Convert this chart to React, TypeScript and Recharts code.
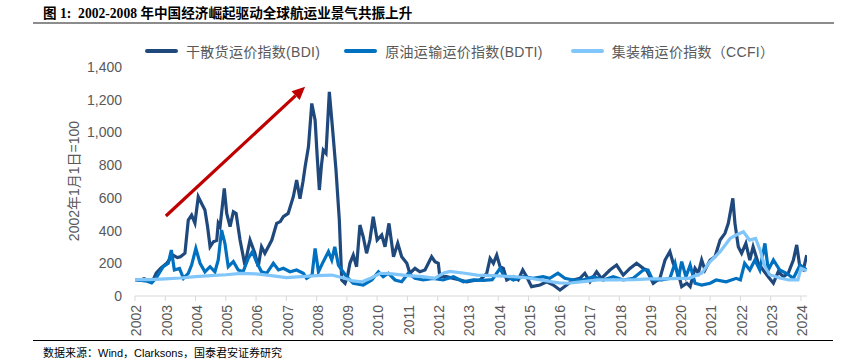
import { LineChart, Line, XAxis, YAxis, ReferenceLine } from 'recharts';

// BDI (干散货运价指数), 2002-01-01 = 100
const bdiYears = [
  2002.0, 2002.15, 2002.3, 2002.45, 2002.6, 2002.7, 2002.85, 2003.05, 2003.25, 2003.4,
  2003.5, 2003.65, 2003.76, 2003.87, 2003.98, 2004.09, 2004.2, 2004.31, 2004.4, 2004.48,
  2004.59, 2004.7, 2004.75, 2004.81, 2004.95, 2005.03, 2005.14, 2005.25, 2005.34, 2005.47,
  2005.63, 2005.8, 2005.96, 2006.07, 2006.18, 2006.29, 2006.4, 2006.52, 2006.68, 2006.8,
  2006.9, 2007.06, 2007.23, 2007.34, 2007.45, 2007.55, 2007.62, 2007.73, 2007.84, 2007.95,
  2008.02, 2008.09, 2008.16, 2008.22, 2008.31, 2008.42, 2008.53, 2008.64, 2008.75, 2008.83,
  2008.94, 2009.02, 2009.1, 2009.21, 2009.32, 2009.43, 2009.54, 2009.65, 2009.76, 2009.87,
  2010.0, 2010.15, 2010.26, 2010.39, 2010.54, 2010.68, 2010.81, 2010.98, 2011.08, 2011.25,
  2011.41, 2011.58, 2011.8, 2011.91, 2012.02, 2012.07, 2012.29, 2012.52, 2012.74, 2012.96,
  2013.2, 2013.4, 2013.62, 2013.73, 2013.84, 2013.95, 2014.06, 2014.17, 2014.28, 2014.5,
  2014.66, 2014.81, 2014.94, 2015.1, 2015.38, 2015.6, 2015.82, 2016.04, 2016.26, 2016.48,
  2016.7, 2016.86, 2017.03, 2017.25, 2017.41, 2017.69, 2017.91, 2018.13, 2018.35, 2018.57,
  2018.79, 2018.9, 2019.12, 2019.34, 2019.51, 2019.67, 2019.78, 2019.95, 2020.06, 2020.23,
  2020.34, 2020.5, 2020.61, 2020.72, 2020.83, 2021.0, 2021.16, 2021.33, 2021.49, 2021.6,
  2021.68, 2021.75, 2021.82, 2021.93, 2022.04, 2022.18, 2022.31, 2022.42, 2022.59, 2022.75,
  2022.92, 2023.09, 2023.25, 2023.42, 2023.58, 2023.75, 2023.86, 2023.97, 2024.08, 2024.19,
];
const bdiValues = [
  100, 95, 105, 95, 98, 140, 170, 200, 250, 235,
  240, 262, 464, 495, 446, 607, 566, 526, 420, 301,
  332, 340, 444, 424, 658, 505, 424, 515, 505, 342,
  189, 342, 261, 179, 301, 261, 300, 342, 444, 455,
  485, 505, 607, 709, 595, 700, 790, 912, 1177, 1075,
  850, 648, 800, 892, 872, 1248, 1014, 770, 464, 98,
  78, 120, 200, 250, 179, 434, 362, 261, 342, 485,
  342, 373, 301, 444, 240, 322, 240, 200, 139, 169,
  148, 159, 240, 210, 200, 118, 118, 108, 98, 87,
  95, 98, 139, 230, 200, 250, 179, 169, 98, 118,
  98, 159, 118, 57, 67, 87, 67, 37, 67, 98,
  108, 139, 87, 148, 108, 159, 189, 128, 169, 200,
  169, 159, 78, 108, 220, 271, 200, 139, 57, 78,
  57, 169, 139, 220, 159, 220, 240, 342, 383, 444,
  525, 597, 444, 301, 261, 322, 220, 301, 200, 159,
  118, 78, 148, 118, 139, 220, 312, 169, 159, 250,
];

// BDTI (原油运输运价指数)
const bdtiYears = [
  2002.0, 2002.2, 2002.4, 2002.55, 2002.7, 2002.93, 2003.1, 2003.2, 2003.3, 2003.47,
  2003.6, 2003.76, 2003.87, 2004.01, 2004.15, 2004.31, 2004.48, 2004.64, 2004.75, 2004.86,
  2004.97, 2005.08, 2005.25, 2005.41, 2005.57, 2005.74, 2005.88, 2006.01, 2006.18, 2006.35,
  2006.57, 2006.74, 2006.9, 2007.12, 2007.34, 2007.56, 2007.67, 2007.85, 2007.95, 2008.06,
  2008.22, 2008.39, 2008.5, 2008.6, 2008.72, 2008.83, 2008.99, 2009.21, 2009.54, 2009.82,
  2010.04, 2010.2, 2010.37, 2010.59, 2010.81, 2011.03, 2011.25, 2011.52, 2011.85, 2012.18,
  2012.52, 2012.85, 2013.18, 2013.5, 2013.8, 2014.06, 2014.17, 2014.5, 2014.83, 2015.15,
  2015.48, 2015.7, 2015.97, 2016.2, 2016.48, 2016.8, 2017.14, 2017.47, 2017.8, 2018.13,
  2018.46, 2018.79, 2018.95, 2019.1, 2019.4, 2019.67, 2019.84, 2019.95, 2020.06, 2020.2,
  2020.34, 2020.5, 2020.72, 2021.0, 2021.2, 2021.53, 2021.86, 2022.0, 2022.14, 2022.31,
  2022.48, 2022.64, 2022.81, 2022.92, 2023.09, 2023.3, 2023.52, 2023.75, 2023.97, 2024.19,
];
const bdtiValues = [
  100, 95, 90, 80, 110, 179, 200, 281, 159, 169,
  108, 139, 189, 291, 200, 148, 179, 148, 220, 403,
  322, 179, 210, 159, 148, 230, 271, 210, 148, 139,
  200, 159, 169, 148, 159, 139, 108, 130, 291, 148,
  210, 271, 220, 301, 189, 159, 118, 78, 67, 98,
  148, 118, 139, 98, 87, 139, 108, 98, 108, 98,
  118, 87, 98, 95, 100, 169, 128, 98, 118, 108,
  118, 108, 139, 108, 98, 98, 118, 98, 118, 98,
  108, 159, 159, 98, 98, 108, 200, 108, 210, 118,
  189, 78, 67, 78, 98, 87, 108, 98, 200, 159,
  220, 159, 322, 159, 220, 159, 139, 108, 190, 159,
];

// CCFI (集装箱运价指数)
const ccfiYears = [
  2002.0, 2002.5, 2003.0, 2003.5, 2004.0, 2004.5, 2005.0, 2005.5, 2006.0, 2006.5,
  2007.0, 2007.5, 2008.0, 2008.5, 2008.9, 2009.2, 2009.5, 2009.8, 2010.1, 2010.5,
  2011.0, 2011.5, 2011.9, 2012.2, 2012.4, 2012.9, 2013.3, 2013.8, 2014.5, 2015.0,
  2015.5, 2016.0, 2016.3, 2016.8, 2017.3, 2017.8, 2018.5, 2019.0, 2019.5, 2020.0,
  2020.3, 2020.72, 2021.0, 2021.33, 2021.66, 2021.86, 2022.1, 2022.3, 2022.5, 2022.65,
  2022.81, 2022.97, 2023.3, 2023.6, 2023.9, 2024.0, 2024.19,
];
const ccfiValues = [
  100, 100, 105, 110, 118, 125, 130, 138, 135, 125,
  112, 118, 125, 128, 110, 92, 87, 110, 139, 135,
  125, 118, 108, 140, 150, 139, 128, 125, 118, 110,
  95, 80, 78, 88, 98, 98, 100, 105, 105, 108,
  108, 139, 210, 271, 352, 373, 393, 342, 352, 281,
  179, 130, 110, 98, 98, 169, 155,
];

const yearTicks = [
  2002, 2003, 2004, 2005, 2006, 2007, 2008, 2009, 2010, 2011, 2012, 2013,
  2014, 2015, 2016, 2017, 2018, 2019, 2020, 2021, 2022, 2023, 2024,
];
const valueTicks = [0, 200, 400, 600, 800, 1000, 1200, 1400];

const seriesNames = ['干散货运价指数(BDI)', '原油运输运价指数(BDTI)', '集装箱运价指数（CCFI）'];
const seriesColors = ['#1F497D', '#0070C0', '#80C6FA'];

const arrowFrom = { x: 2003.02, y: 489 };
const arrowTo = { x: 2007.62, y: 1279 };

const zip = (xs: number[], ys: number[]) => xs.map((x, i) => ({ x, v: ys[i] }));
const bdiData = zip(bdiYears, bdiValues);
const bdtiData = zip(bdtiYears, bdtiValues);
const ccfiData = zip(ccfiYears, ccfiValues);

const FONT = '"Liberation Sans", Arial, "Noto Sans CJK SC", sans-serif';
const GREY = '#595959';

function YearTick(props: any) {
  const { x, y, payload } = props;
  return (
    <text
      x={x}
      y={y}
      dy="0.45em"
      transform={`rotate(-90, ${x}, ${y})`}
      textAnchor="end"
      fill={GREY}
      fontSize={14}
      fontFamily={FONT}
    >
      {payload.value}
    </text>
  );
}

function ArrowShape(props: any) {
  const { x1, y1, x2, y2 } = props;
  if ([x1, y1, x2, y2].some((n) => typeof n !== 'number' || isNaN(n))) return null;
  const ang = Math.atan2(y2 - y1, x2 - x1);
  const headLen = 13;
  const headW = 6;
  const bx = x2 - headLen * Math.cos(ang);
  const by = y2 - headLen * Math.sin(ang);
  const px = -Math.sin(ang) * headW;
  const py = Math.cos(ang) * headW;
  return (
    <g>
      <line x1={x1} y1={y1} x2={bx} y2={by} stroke="#C00000" strokeWidth={3.2} />
      <polygon
        points={`${x2},${y2} ${bx + px},${by + py} ${bx - px},${by - py}`}
        fill="#C00000"
      />
    </g>
  );
}

export default function App() {
  return (
    <div
      style={{
        position: 'absolute',
        left: 0,
        top: 0,
        width: 854,
        height: 362,
        background: '#fff',
        fontFamily: FONT,
      }}
    >
      <div
        style={{
          position: 'absolute',
          left: 43,
          top: 2,
          fontSize: 13.6,
          fontWeight: 'bold',
          color: '#000',
          fontFamily: '"Liberation Serif", "Noto Sans CJK SC", serif',
          whiteSpace: 'nowrap',
        }}
      >
        图 1:&nbsp; 2002-2008 年中国经济崛起驱动全球航运业景气共振上升
      </div>
      <div
        style={{ position: 'absolute', left: 33, top: 22, width: 801, height: 2, background: '#8C8C8C' }}
      />

      <div style={{ position: 'absolute', left: 145, top: 41, display: 'flex', alignItems: 'center' }}>
        {seriesNames.map((name, i) => (
          <div
            key={name}
            style={{ display: 'flex', alignItems: 'center', marginRight: i === 0 ? 24 : 28 }}
          >
            <div style={{ width: 33, height: 4, borderRadius: 2, background: seriesColors[i], marginRight: 8 }} />
            <span style={{ fontSize: 14, color: GREY, whiteSpace: 'nowrap', letterSpacing: 0.3 }}>{name}</span>
          </div>
        ))}
      </div>

      <div
        style={{
          position: 'absolute',
          left: 73,
          top: 181,
          transform: 'translate(-50%, -50%) rotate(-90deg)',
          fontSize: 14,
          color: GREY,
          whiteSpace: 'nowrap',
        }}
      >
        2002年1月1日=100
      </div>

      <div style={{ position: 'absolute', left: 0, top: 0 }}>
        <LineChart
          width={854}
          height={362}
          margin={{ top: 67, right: 47, bottom: 26, left: 75 }}
        >
          <XAxis
            type="number"
            dataKey="x"
            domain={[2002, 2024.2]}
            ticks={yearTicks}
            interval={0}
            allowDataOverflow
            height={40}
            axisLine={{ stroke: '#D9D9D9' }}
            tickLine={{ stroke: '#D9D9D9' }}
            tickSize={5}
            tickMargin={4}
            tick={<YearTick />}
          />
          <YAxis
            type="number"
            domain={[0, 1400]}
            ticks={valueTicks}
            width={60}
            axisLine={false}
            tickLine={false}
            tickMargin={7}
            tick={{ fill: GREY, fontSize: 14, fontFamily: FONT }}
            tickFormatter={(v: number) => v.toLocaleString('en-US')}
          />
          <Line
            data={bdiData}
            dataKey="v"
            type="linear"
            stroke={seriesColors[0]}
            strokeWidth={3.2}
            dot={false}
            isAnimationActive={false}
          />
          <Line
            data={bdtiData}
            dataKey="v"
            type="linear"
            stroke={seriesColors[1]}
            strokeWidth={3.2}
            dot={false}
            isAnimationActive={false}
          />
          <Line
            data={ccfiData}
            dataKey="v"
            type="linear"
            stroke={seriesColors[2]}
            strokeWidth={3.2}
            dot={false}
            isAnimationActive={false}
          />
          <ReferenceLine
            segment={[arrowFrom, arrowTo]}
            ifOverflow="visible"
            shape={<ArrowShape />}
          />
        </LineChart>
      </div>

      <div style={{ position: 'absolute', left: 33, top: 340, width: 800, height: 1, background: '#000' }} />
      <div
        style={{
          position: 'absolute',
          left: 43,
          top: 344,
          fontSize: 11,
          color: '#000',
          whiteSpace: 'nowrap',
        }}
      >
        数据来源：Wind，Clarksons，国泰君安证券研究
      </div>
    </div>
  );
}
